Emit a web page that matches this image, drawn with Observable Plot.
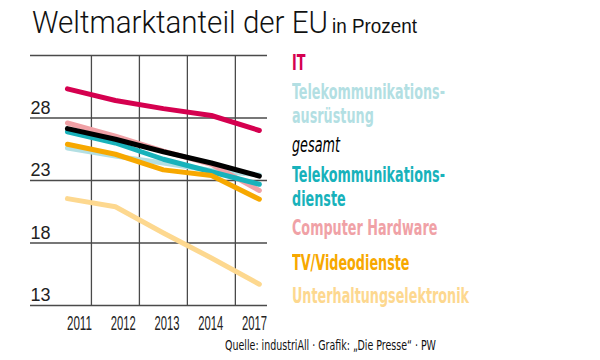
<!DOCTYPE html>
<html>
<head>
<meta charset="utf-8">
<script src="https://cdn.jsdelivr.net/npm/d3@7"></script>
<script src="https://cdn.jsdelivr.net/npm/@observablehq/plot@0.6"></script>
<style>
  html, body { margin: 0; padding: 0; background: #fff; }
  #wrap { position: relative; width: 600px; height: 360px; overflow: hidden; font-family: "Liberation Sans Narrow", "DejaVu Sans Condensed", sans-serif; }
  #title { position: absolute; left: 32px; top: 3px; white-space: nowrap; color: #111; display: flex; align-items: baseline; }
  #title .main { display: inline-block; font-family: Roboto, "Liberation Sans", sans-serif; font-weight: 300; font-size: 32px; transform-origin: left center; }
  #title .sub { display: inline-block; font-family: "Liberation Sans Narrow", sans-serif; font-size: 20px; transform-origin: left center; }
  #chart { position: absolute; left: 0; top: 45px; }
  #legend { position: absolute; left: 292px; top: 51px; transform-origin: left top; font-size: 21px; line-height: 24px; font-weight: bold; white-space: nowrap; }
  #legend div { white-space: pre; }
  #caption { position: absolute; left: 225px; top: 337px; font-size: 14px; color: #111; white-space: nowrap; transform-origin: left center; }
</style>
</head>
<body>
<div id="wrap">
  <div id="title"><span class="main">Weltmarktanteil der EU</span><span class="sub">in Prozent</span></div>
  <div id="chart"></div>
  <div id="legend"></div>
  <div id="caption">Quelle: industriAll · Grafik: „Die Presse“ · PW</div>
</div>
<script>
// ---- data ----
const years = ["2011", "2012", "2013", "2014", "2017"];
const yTicks = [13, 18, 23, 28, 33];
const yLabels = [13, 18, 23, 28];

const seriesNames = ["Unterhaltungselektronik", "Telekommunikationsausrüstung", "Computer Hardware", "Telekommunikationsdienste", "TV/Videodienste", "gesamt", "IT"];
const IT = [30.33, 29.4, 28.75, 28.2, 27.0];
const telekomAusruestung = [25.6, 24.95, 24.4, 23.8, 23.45];
const gesamt = [27.15, 26.3, 25.3, 24.4, 23.35];
const telekomDienste = [26.9, 26.0, 24.7, 23.7, 22.7];
const computerHardware = [27.6, 26.55, 25.35, 24.3, 22.2];
const tvVideo = [25.9, 25.1, 23.85, 23.4, 21.5];
const unterhaltung = [21.55, 20.9, 18.8, 16.8, 14.7];

const colors = {
  "IT": "#d5004f",
  "Telekommunikationsausrüstung": "#b3dfe3",
  "gesamt": "#000000",
  "Telekommunikationsdienste": "#18b2bb",
  "Computer Hardware": "#f0a1a6",
  "TV/Videodienste": "#f7a800",
  "Unterhaltungselektronik": "#fdd88f"
};
const valuesBySeries = {
  "IT": IT,
  "Telekommunikationsausrüstung": telekomAusruestung,
  "gesamt": gesamt,
  "Telekommunikationsdienste": telekomDienste,
  "Computer Hardware": computerHardware,
  "TV/Videodienste": tvVideo,
  "Unterhaltungselektronik": unterhaltung
};
const legendItems = [
  {label: "IT", key: "IT"},
  {label: "Telekommunikations-\nausrüstung", key: "Telekommunikationsausrüstung"},
  {label: "gesamt", key: "gesamt", italic: true},
  {label: "Telekommunikations-\ndienste", key: "Telekommunikationsdienste"},
  {label: "Computer Hardware", key: "Computer Hardware"},
  {label: "TV/Videodienste", key: "TV/Videodienste"},
  {label: "Unterhaltungselektronik", key: "Unterhaltungselektronik"}
];

// ---- table ----
const rows = [];
for (const s of seriesNames) {
  valuesBySeries[s].forEach((v, i) => rows.push({series: s, i, year: years[i], value: v}));
}
const xDomain = [-0.77, 4.17];
const gridX = years.slice(1).map((d, i) => i + 0.5);

const chart = Plot.plot({
  width: 600,
  height: 290,
  marginTop: 10,
  marginBottom: 30,
  x: {domain: xDomain, range: [30, 267], axis: null},
  y: {domain: [13, 33], axis: null},
  color: {domain: Object.keys(colors), range: Object.values(colors)},
  style: {fontFamily: "'Liberation Sans Narrow', sans-serif", background: "transparent"},
  marks: [
    Plot.ruleX(gridX, {y1: 13, y2: 33, stroke: "#4a4a4a", strokeWidth: 1.3}),
    Plot.ruleY(yTicks, {x1: xDomain[0], x2: xDomain[1], stroke: "#4a4a4a", strokeWidth: 1.3}),
    Plot.line(rows, {x: "i", y: "value", z: "series", stroke: "series", strokeWidth: 5, strokeLinecap: "round", strokeLinejoin: "round"}),
    Plot.text(yLabels, {x: xDomain[0], y: d => d, text: d => String(d), textAnchor: "start", dy: -10, fontSize: 18, fill: "#222"}),
    Plot.text(years, {x: (d, i) => 0.25 + i * 0.912, y: 13, text: d => d, dy: 18, fontSize: 21, fill: "#222"})
  ]
});
document.getElementById("chart").appendChild(chart);

// condensed year labels
chart.querySelectorAll("text").forEach(t => {
  if (years.includes(t.textContent.trim())) {
    t.setAttribute("textLength", 25);
    t.setAttribute("lengthAdjust", "spacingAndGlyphs");
  }
});

// legend
const legend = document.getElementById("legend");
const gaps = [0, 5, 5, 6, 5, 11, 9];
legendItems.forEach((it, k) => {
  const div = document.createElement("div");
  div.textContent = it.label;
  div.style.color = colors[it.key];
  div.style.marginTop = gaps[k] + "px";
  if (it.italic) { div.style.fontStyle = "italic"; div.style.fontWeight = "normal"; }
  legend.appendChild(div);
});

function fit(el, target, gap) {
  const w = el.getBoundingClientRect().width;
  el.style.transform = `scaleX(${target / w})`;
  if (gap !== undefined) el.style.marginRight = (target - w + gap) + "px";
}
fit(document.querySelector("#title .main"), 296, 4);
fit(document.querySelector("#title .sub"), 85);
fit(document.getElementById("caption"), 211);
// scale legend so that "Telekommunikations-" is 153 px wide
(function () {
  const probe = document.createElement("span");
  probe.textContent = "Telekommunikations-";
  probe.style.cssText = "font-weight:bold;font-size:21px;position:absolute;visibility:hidden;white-space:nowrap";
  legend.appendChild(probe);
  const w = probe.getBoundingClientRect().width;
  legend.removeChild(probe);
  legend.style.transform = `scaleX(${153 / w})`;
})();
</script>
</body>
</html>
